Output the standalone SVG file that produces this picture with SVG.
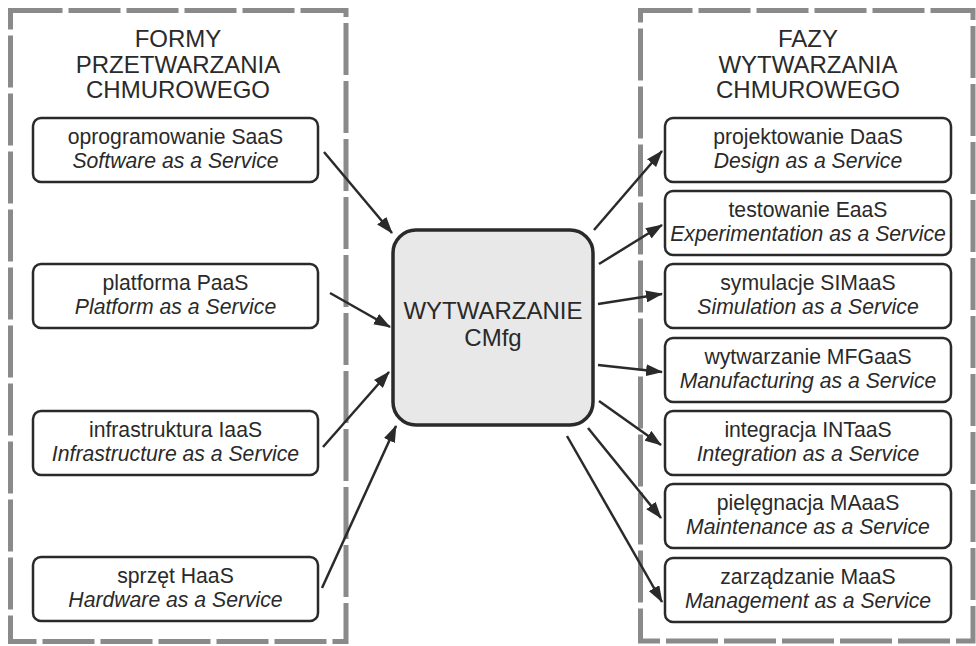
<svg xmlns="http://www.w3.org/2000/svg" width="976" height="646" viewBox="0 0 976 646">
  <defs>
    <marker id="arrow" markerUnits="userSpaceOnUse" markerWidth="17" markerHeight="12" refX="16" refY="6" orient="auto">
      <path d="M0,0 L17,6 L0,12 z" fill="#2a2a2a"/>
    </marker>
    <style>
      text { font-family: "Liberation Sans", Arial, sans-serif; fill: #2a2a2a; text-anchor: middle; }
      .frame { fill: none; stroke: #8a8a8a; stroke-width: 5; stroke-dasharray: 52 6; }
      .title { font-size: 24px; }
      .node rect { fill: #ffffff; stroke: #2a2a2a; stroke-width: 2.5; }
      .node text { font-size: 21.2px; }
      .node .en { font-style: italic; }
      .hub rect { fill: #e8e8e8; stroke: #2a2a2a; stroke-width: 3.5; }
      .hub text { font-size: 24px; }
      .conn line { stroke: #2a2a2a; stroke-width: 2.5; marker-end: url(#arrow); }
    </style>
  </defs>
  <rect width="976" height="646" fill="#ffffff"/>

  <!-- dashed panels -->
  <rect class="frame" x="10.5" y="10.5" width="335.5" height="631"/>
  <rect class="frame" x="640.5" y="10.5" width="332.5" height="630.5"/>

  <!-- panel headings -->
  <g id="title-left" class="title">
    <text x="178" y="47" class="title">FORMY</text>
    <text x="178" y="73" class="title">PRZETWARZANIA</text>
    <text x="178" y="98" class="title">CHMUROWEGO</text>
  </g>
  <g id="title-right" class="title">
    <text x="808" y="47" class="title">FAZY</text>
    <text x="808" y="73" class="title">WYTWARZANIA</text>
    <text x="808" y="98" class="title">CHMUROWEGO</text>
  </g>

  <!-- connectors -->
  <g id="connectors" class="conn">
    <line x1="324" y1="152" x2="392" y2="233"/>
    <line x1="330" y1="293" x2="390" y2="327"/>
    <line x1="323" y1="447" x2="389" y2="372"/>
    <line x1="322" y1="588" x2="396" y2="426"/>
    <line x1="594" y1="230" x2="662" y2="151"/>
    <line x1="599" y1="264" x2="662" y2="225"/>
    <line x1="598" y1="304" x2="662" y2="294"/>
    <line x1="598" y1="365" x2="662" y2="372"/>
    <line x1="599" y1="401" x2="661" y2="445"/>
    <line x1="588" y1="428" x2="661" y2="518"/>
    <line x1="567" y1="436" x2="662" y2="602"/>
  </g>

  <!-- central node -->
  <g id="cmfg" class="hub">
    <rect x="393" y="230" width="200" height="195" rx="23" ry="23"/>
    <text x="493" y="319">WYTWARZANIE</text>
    <text x="493" y="346">CMfg</text>
  </g>

  <!-- left column: service forms -->
  <g id="saas" class="node">
    <rect x="33" y="118" width="285" height="64" rx="8"/>
    <text x="175.5" y="144">oprogramowanie SaaS</text>
    <text x="175.5" y="168" class="en">Software as a Service</text>
  </g>
  <g id="paas" class="node">
    <rect x="33" y="264" width="285" height="64" rx="8"/>
    <text x="175.5" y="290">platforma PaaS</text>
    <text x="175.5" y="314" class="en">Platform as a Service</text>
  </g>
  <g id="iaas" class="node">
    <rect x="33" y="411" width="285" height="64" rx="8"/>
    <text x="175.5" y="437">infrastruktura IaaS</text>
    <text x="175.5" y="461" class="en">Infrastructure as a Service</text>
  </g>
  <g id="haas" class="node">
    <rect x="33" y="557" width="285" height="64" rx="8"/>
    <text x="175.5" y="583">sprzęt HaaS</text>
    <text x="175.5" y="607" class="en">Hardware as a Service</text>
  </g>

  <!-- right column: manufacturing phases -->
  <g id="daas" class="node">
    <rect x="665" y="118" width="286" height="64" rx="8"/>
    <text x="808" y="144">projektowanie DaaS</text>
    <text x="808" y="168" class="en">Design as a Service</text>
  </g>
  <g id="eaas" class="node">
    <rect x="665" y="191" width="286" height="64" rx="8"/>
    <text x="808" y="217">testowanie EaaS</text>
    <text x="808" y="241" class="en">Experimentation as a Service</text>
  </g>
  <g id="simaas" class="node">
    <rect x="665" y="264" width="286" height="64" rx="8"/>
    <text x="808" y="290">symulacje SIMaaS</text>
    <text x="808" y="314" class="en">Simulation as a Service</text>
  </g>
  <g id="mfgaas" class="node">
    <rect x="665" y="338" width="286" height="64" rx="8"/>
    <text x="808" y="364">wytwarzanie MFGaaS</text>
    <text x="808" y="388" class="en">Manufacturing as a Service</text>
  </g>
  <g id="intaas" class="node">
    <rect x="665" y="411" width="286" height="64" rx="8"/>
    <text x="808" y="437">integracja INTaaS</text>
    <text x="808" y="461" class="en">Integration as a Service</text>
  </g>
  <g id="maaas" class="node">
    <rect x="665" y="484" width="286" height="64" rx="8"/>
    <text x="808" y="510">pielęgnacja MAaaS</text>
    <text x="808" y="534" class="en">Maintenance as a Service</text>
  </g>
  <g id="maas" class="node">
    <rect x="665" y="558" width="286" height="64" rx="8"/>
    <text x="808" y="584">zarządzanie MaaS</text>
    <text x="808" y="608" class="en">Management as a Service</text>
  </g>
</svg>
